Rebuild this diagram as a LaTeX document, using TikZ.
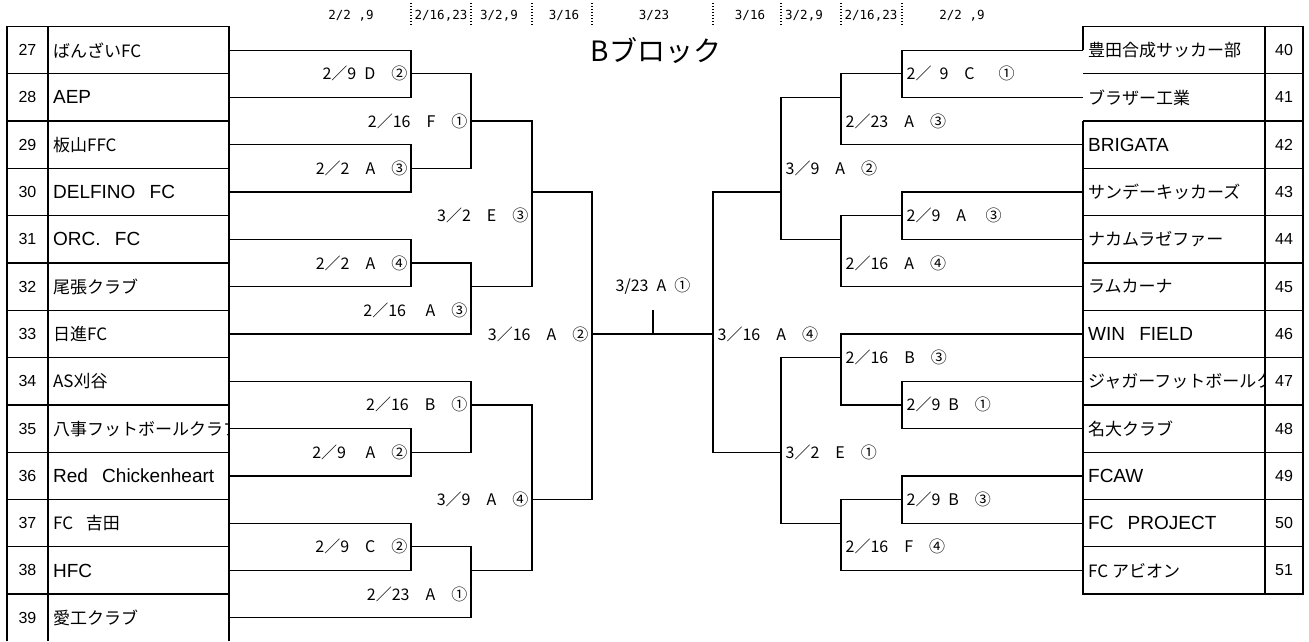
\documentclass[tikz,border=0pt]{standalone}
\usepackage{fontspec}
\setmainfont{Noto Sans CJK JP}
\newfontfamily\latfont{Liberation Sans}
\newfontfamily\hdfont{DejaVu Sans Mono}
\usetikzlibrary{positioning}
\newcommand\tn[1]{\makebox[172pt][l]{#1}}
\newcommand\zs{\hspace{.75em}}

\begin{document}
\begin{tikzpicture}[x=1pt,y=-23.65pt,line width=1.3pt,
    tm/.style={anchor=west,inner xsep=4.5pt,inner ysep=0pt,font=\fontsize{17}{20}\selectfont},
    tl/.style={tm,font=\latfont\fontsize{19}{22}\selectfont},
    nm/.style={font=\latfont\fontsize{16}{18}\selectfont},
    ml/.style={inner sep=0pt,font=\fontsize{16}{18}\selectfont},
    hd/.style={font=\hdfont\fontsize{12.5}{14}\selectfont},
    dotsep/.style={dash pattern=on 1.2pt off 1.8pt},
    ttl/.style={font=\fontsize{28}{32}\selectfont},
    hup/.style={yshift=23.65pt},hdown/.style={yshift=-23.65pt}]

\useasboundingbox (0pt,0pt) rectangle (1309pt,-641pt);
\begin{scope}[yshift=-26.5pt]

\foreach \x in {411,471,532,592,713,781,841,902} \draw[dotsep] (\x,-1) -- (\x,0);
\node[hd] (h1) at (351,-0.47) {2/2 ,9};
\node[hd] (h2) at (441,-0.47) {2/16,23};
\node[hd] (h3) at (499,-0.47) {3/2,9};
\node[hd] (h4) at (564,-0.47) {3/16};
\node[hd] (h5) at (654,-0.47) {3/23};
\node[hd] (h6) at (750,-0.47) {3/16};
\node[hd] (h7) at (804,-0.47) {3/2,9};
\node[hd] (h8) at (871,-0.47) {2/16,23};
\node[hd] (h9) at (962,-0.47) {2/2 ,9};
\node[ttl] (title) at (656,1) {Bブロック};

\draw (7,26) -- (7,0) -- (229,0) -- (229,26) (48,0) -- (48,26);
\foreach \k in {2,4,...,24} \draw (7,\k) -- (229,\k);
\draw (1083,1) -- (1083,0) -- (1303,0) -- (1303,24) -- (1083,24) -- (1083,4) (1265,0) -- (1265,24);
\foreach \k in {2,4,...,22} \draw (1083,\k) -- (1303,\k);

\foreach \n [count=\i] in {27,...,39} \node[nm] (n\n) at (27.5,2*\i-1) {\n};
\foreach \n [count=\i] in {40,...,51} \node[nm] (n\n) at (1284,2*\i-1) {\n};

\begin{scope}
\clip (48,0) rectangle (229,26);
\node[tm] (t27) at (48,1) {\tn{ばんざいFC}};
\node[tl] (t28) at (48,3) {\tn{AEP}};
\node[tm] (t29) at (48,5) {\tn{板山FFC}};
\node[tl] (t30) at (48,7) {\tn{DELFINO\zs FC}};
\node[tl] (t31) at (48,9) {\tn{ORC.\zs FC}};
\node[tm] (t32) at (48,11) {\tn{尾張クラブ}};
\node[tm] (t33) at (48,13) {\tn{日進FC}};
\node[tm] (t34) at (48,15) {\tn{AS刈谷}};
\node[tm] (t35) at (48,17) {\tn{八事フットボールクラブ}};
\node[tl] (t36) at (48,19) {\tn{Red\zs Chickenheart}};
\node[tm] (t37) at (48,21) {\tn{FC\zs 吉田}};
\node[tl] (t38) at (48,23) {\tn{HFC}};
\node[tm] (t39) at (48,25) {\tn{愛工クラブ}};
\end{scope}

\begin{scope}
\clip (1083,0) rectangle (1265,24);
\node[tm] (t40) at (1083,1) {\tn{豊田合成サッカー部}};
\node[tm] (t41) at (1083,3) {\tn{ブラザー工業}};
\node[tl] (t42) at (1083,5) {\tn{BRIGATA}};
\node[tm] (t43) at (1083,7) {\tn{サンデーキッカーズ}};
\node[tm] (t44) at (1083,9) {\tn{ナカムラゼファー}};
\node[tm] (t45) at (1083,11) {\tn{ラムカーナ}};
\node[tl] (t46) at (1083,13) {\tn{WIN\zs FIELD}};
\node[tm] (t47) at (1083,15) {\tn{ジャガーフットボールク}};
\node[tm] (t48) at (1083,17) {\tn{名大クラブ}};
\node[tl] (t49) at (1083,19) {\tn{FCAW}};
\node[tl] (t50) at (1083,21) {\tn{FC\zs PROJECT}};
\node[tm] (t51) at (1083,23) {\tn{FC アビオン}};
\end{scope}

\coordinate (m1) at (411,2);
\coordinate (m2) at (411,6);
\coordinate (m3) at (471,4);
\coordinate (m4) at (411,10);
\coordinate (m5) at (471,11);
\coordinate (m6) at (532,7);
\coordinate (m7) at (411,18);
\coordinate (m8) at (471,16);
\coordinate (m9) at (411,22);
\coordinate (m10) at (471,23);
\coordinate (m11) at (532,20);
\coordinate (m12) at (592,13);
\coordinate (r1) at (902,2);
\coordinate (r2) at (841,3);
\coordinate (r3) at (902,8);
\coordinate (r4) at (841,9);
\coordinate (r5) at (781,7);
\coordinate (r6) at (902,16);
\coordinate (r7) at (841,14);
\coordinate (r8) at (902,20);
\coordinate (r9) at (841,21);
\coordinate (r10) at (781,18);
\coordinate (r11) at (713,13);
\coordinate (fin) at (653,13);
\coordinate (tick) at (653,12);

\draw (t27.east) -| (m1) (t28.east) -| (m1);
\draw (t29.east) -| (m2) (t30.east) -| (m2);
\draw (m1) -| (m3) (m2) -| (m3);
\draw (t31.east) -| (m4) (t32.east) -| (m4);
\draw (m4) -| (m5) (t33.east) -| (m5);
\draw (m3) -| (m6) (m5) -| (m6);
\draw (t35.east) -| (m7) (t36.east) -| (m7);
\draw (t34.east) -| (m8) (m7) -| (m8);
\draw (t37.east) -| (m9) (t38.east) -| (m9);
\draw (m9) -| (m10) (t39.east) -| (m10);
\draw (m8) -| (m11) (m10) -| (m11);
\draw (m6) -| (m12) (m11) -| (m12);
\draw (m12) -- (r11) (fin) -- (tick);

\draw (t40.west) -| (r1) (t41.west) -| (r1);
\draw (r1) -| (r2) (t42.west) -| (r2);
\draw (t43.west) -| (r3) (t44.west) -| (r3);
\draw (r3) -| (r4) (t45.west) -| (r4);
\draw (r2) -| (r5) (r4) -| (r5);
\draw (t47.west) -| (r6) (t48.west) -| (r6);
\draw (t46.west) -| (r7) (r6) -| (r7);
\draw (t49.west) -| (r8) (t50.west) -| (r8);
\draw (r8) -| (r9) (t51.west) -| (r9);
\draw (r7) -| (r10) (r9) -| (r10);
\draw (r5) -| (r11) (r10) -| (r11);

\node[ml,left=3pt of m1] (l1) {2／9\enspace D\quad ②};
\node[ml,left=3pt of m2] (l2) {2／2\quad A\quad ③};
\node[ml,left=3pt of m3] (l3) {2／16\quad F\quad ①};
\node[ml,left=3pt of m4] (l4) {2／2\quad A\quad ④};
\node[ml,left=3pt of m5,hdown] (l5) {2／16\quad\ A\quad ③};
\node[ml,left=3pt of m6,hdown] (l6) {3／2\quad E\quad ③};
\node[ml,left=3pt of m7] (l7) {2／9\quad\ A\quad ②};
\node[ml,left=3pt of m8] (l8) {2／16\quad B\quad ①};
\node[ml,left=3pt of m9] (l9) {2／9\quad C\quad ②};
\node[ml,left=3pt of m10,hdown] (l10) {2／23\quad A\quad ①};
\node[ml,left=3pt of m11] (l11) {3／9\quad A\quad ④};
\node[ml,left=3pt of m12] (l12) {3／16\quad A\quad ②};
\node[ml] (l13) at (653,11) {3/23\enspace A\enspace ①};
\node[ml,right=4pt of r1] (l14) {2／\enspace 9\quad C\quad\enspace ①};
\node[ml,right=4pt of r2,hdown] (l15) {2／23\quad A\quad ③};
\node[ml,right=4pt of r3] (l16) {2／9\quad A\quad\ ③};
\node[ml,right=4pt of r4,hdown] (l17) {2／16\quad A\quad ④};
\node[ml,right=4pt of r5,hup] (l18) {3／9\quad A\quad ②};
\node[ml,right=4pt of r6] (l19) {2／9\enspace B\quad ①};
\node[ml,right=4pt of r7] (l20) {2／16\quad B\quad ③};
\node[ml,right=4pt of r8] (l21) {2／9\enspace B\quad ③};
\node[ml,right=4pt of r9,hdown] (l22) {2／16\quad F\quad ④};
\node[ml,right=4pt of r10] (l23) {3／2\quad E\quad ①};
\node[ml,right=4pt of r11] (l24) {3／16\quad A\quad ④};

\end{scope}
\end{tikzpicture}
\end{document}
